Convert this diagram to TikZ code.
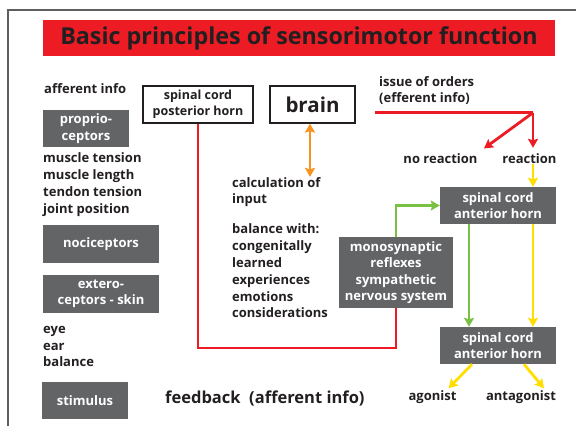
\documentclass[tikz,border=0pt]{standalone}
\usepackage{fontspec}
\setmainfont{Open Sans}
\usetikzlibrary{arrows.meta}
\usetikzlibrary{positioning}

\definecolor{sigred}{HTML}{ED1C24}
\definecolor{boxgray}{HTML}{636466}
\definecolor{inkdark}{HTML}{231F20}
\definecolor{framegray}{HTML}{5F5F5F}
\definecolor{sigorange}{HTML}{F7941D}
\definecolor{siggreen}{HTML}{7AC143}
\definecolor{sigyellow}{HTML}{FFDE00}

\tikzset{
    graybox/.style={fill=boxgray,text=white,align=center,inner sep=0pt,
                    font=\bfseries\fontsize{13}{16.5}\selectfont},
    whitebox/.style={draw=inkdark,line width=1.2pt,fill=white,text=inkdark,align=center,inner sep=0pt,
                     font=\bfseries\fontsize{12.5}{16}\selectfont},
    plaintext/.style={text=inkdark,align=left,inner sep=0pt,
                      font=\bfseries\fontsize{13}{16.8}\selectfont},
    tip/.style={-{Stealth[length=9pt,width=10pt,inset=1.5pt]}},
    wire/.style={line width=2.8pt},
}

\begin{document}
\begin{tikzpicture}[x=1pt,y=-1pt]
\useasboundingbox (0,0) rectangle (576,426);
\draw[framegray,line width=1.3pt] (8,426) -- (8,10) -- (576,10);

\node[fill=sigred,text=inkdark,minimum width=512pt,minimum height=36pt,inner sep=0pt,
      font=\bfseries\fontsize{23.3}{26}\selectfont] (title) at (299,38)
      {Basic principles of sensorimotor function};

% receptors and motor boxes
\begin{scope}[every node/.style={graybox}]
    \node[minimum width=86pt,minimum height=37pt]  (proprio)  at (86,128.5)  {proprio-\\ceptors};
    \node[minimum width=116pt,minimum height=38pt] (noci)     at (101,244)   {nociceptors};
    \node[minimum width=116pt,minimum height=38pt] (extero)   at (101,294)   {extero-\\ceptors - skin};
    \node[minimum width=86pt,minimum height=37pt]  (stimulus) at (85,400.5)  {stimulus};
    \node[minimum width=114pt,minimum height=71pt] (mono)     at (396,272.5) {monosynaptic\\reflexes\\sympathetic\\nervous system};
    \node[minimum width=116pt,minimum height=37pt] (antUpper) at (498,205.5) {spinal cord\\anterior horn};
    \node[minimum width=116pt,minimum height=37pt] (antLower) at (498,345.5) {spinal cord\\anterior horn};
\end{scope}

\node[whitebox,minimum width=110pt,minimum height=37pt] (postHorn) at (198,104.5) {spinal cord\\posterior horn};
\node[whitebox,minimum width=85pt,minimum height=37pt,
      font=\bfseries\fontsize{20.5}{24}\selectfont] (brain) at (312.5,104.5) {brain};

% texts
\begin{scope}[every node/.style={plaintext}]
    \node[anchor=west] (afferent) at (44,89)    {afferent info};
    \node[anchor=west] (orders)   at (379,90.5) {issue of orders\\(efferent info)};
    \node[anchor=west] (muscles)  at (43,184.5) {muscle tension\\muscle length\\tendon tension\\joint position};
    \node[anchor=west] (calc)     at (232,192)  {calculation of\\input};
    \node[anchor=west] (balance)  at (232,271)  {balance with:\\congenitally\\learned\\experiences\\emotions\\considerations};
    \node[anchor=west] (senses)   at (43,346.5) {eye\\ear\\balance};
    \node[anchor=west,font=\bfseries\fontsize{16.5}{19}\selectfont] (feedback) at (165,398) {feedback\ \ (afferent info)};
    \node (noReact)    at (440.5,159) {no reaction};
    \node (react)      at (529.5,159) {reaction};
    \node (agonist)    at (432.5,397) {agonist};
    \node (antagonist) at (521,397)   {antagonist};
\end{scope}

\coordinate (loopBottom)   at (0,348);
\coordinate (ordersStart)  at (375,112.7);
\coordinate (ordersCorner) at (533,112.7);

% efferent path
\begin{scope}[every path/.style={draw=sigred,wire}]
    \path (postHorn.south) -- (postHorn.south |- loopBottom) -| (mono.south);
    \path (ordersStart) -- (ordersCorner);
    \path [tip,shorten >=6pt] (ordersCorner) -- (react.north -| ordersCorner);
    \path [tip,shorten >=9pt] (ordersCorner) -- ([xshift=-1pt]noReact.north east);
\end{scope}

\draw[sigorange,wire,{Stealth[length=9pt,width=10pt,inset=1.5pt]}-{Stealth[length=9pt,width=10pt,inset=1.5pt]}]
    ([xshift=-2.5pt]brain.south) -- ([xshift=-2.5pt]brain.south |- calc.north);

\begin{scope}[every path/.style={draw=siggreen,wire,tip}]
    \path (mono.north) |- (antUpper.west);
    \path ([xshift=-29pt]antUpper.south) -- ([xshift=-29pt]antLower.north);
\end{scope}

\begin{scope}[every path/.style={draw=sigyellow,wire,tip}]
    \path ([xshift=3.5pt]react.south) -- ([xshift=35pt]antUpper.north);
    \path ([xshift=35pt]antUpper.south) -- ([xshift=35pt]antLower.north);
    \path ([xshift=-26pt]antLower.south) -- ([xshift=16pt,yshift=2pt]agonist.north);
    \path ([xshift=26pt]antLower.south) -- ([xshift=23pt,yshift=2pt]antagonist.north);
\end{scope}
\end{tikzpicture}
\end{document}
